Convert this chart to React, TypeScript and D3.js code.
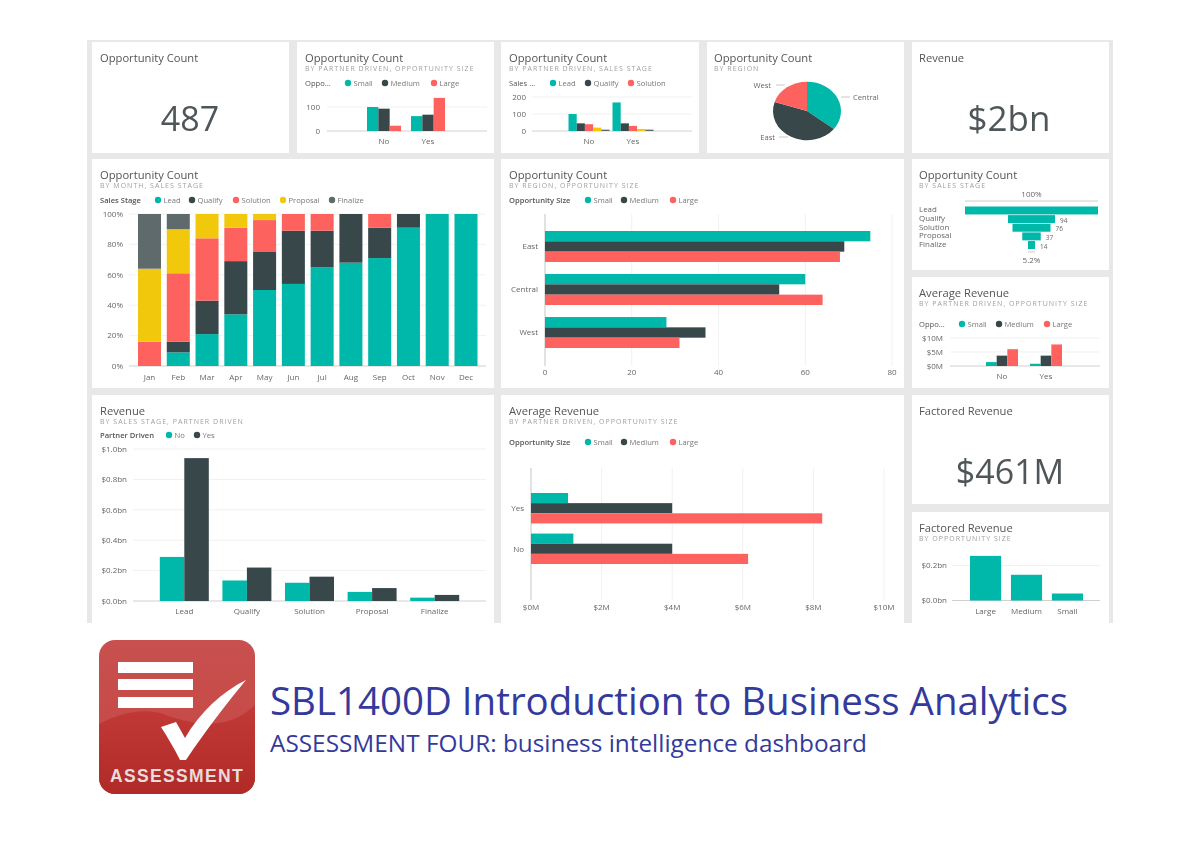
import React from 'react';
import * as d3 from 'd3';

const TEAL = '#01B8AA';
const DARK = '#374649';
const RED = '#FD625E';
const YELLOW = '#F2C80F';
const GRAY = '#5F6B6D';
const INK = '#666';
const FONT = '"Open Sans", "Noto Sans", sans-serif';

const partners = ['No', 'Yes'];
const partnersDesc = ['Yes', 'No'];
const sizesDesc = ['Large', 'Medium', 'Small'];
const stages = ['Lead', 'Qualify', 'Solution', 'Proposal', 'Finalize'];
const months = ['Jan', 'Feb', 'Mar', 'Apr', 'May', 'Jun', 'Jul', 'Aug', 'Sep', 'Oct', 'Nov', 'Dec'];
const regions = ['East', 'Central', 'West'];
const pieRegions = ['Central', 'East', 'West'];

// values, one array per series
const countSmall = [100, 62];
const countMedium = [93, 68];
const countLarge = [22, 138];

const stageCountLead = [100, 168];
const stageCountQualify = [45, 45];
const stageCountSolution = [40, 30];
const stageCountProposal = [20, 12];
const stageCountFinalize = [8, 8];

const regionShare = [35.5, 44.5, 20];

const monthLead = [0, 9, 21, 34, 50, 54, 65, 68, 71, 91, 100, 100];
const monthQualify = [0, 7, 22, 35, 25, 35, 24, 32, 20, 9, 0, 0];
const monthSolution = [16, 45, 41, 22, 21, 11, 11, 0, 9, 0, 0, 0];
const monthProposal = [48, 29, 16, 9, 4, 0, 0, 0, 0, 0, 0, 0];
const monthFinalize = [36, 10, 0, 0, 0, 0, 0, 0, 0, 0, 0, 0];

const regionSmall = [75, 60, 28];
const regionMedium = [69, 54, 37];
const regionLarge = [68, 64, 31];

const funnelCounts = [266, 94, 76, 37, 14];

const avgSmall = [1.4, 0.8];
const avgMedium = [3.7, 3.7];
const avgLarge = [6, 7.7];

const revenueNo = [0.29, 0.135, 0.12, 0.06, 0.022];
const revenueYes = [0.94, 0.22, 0.16, 0.085, 0.04];

// Yes first, No second, same order as partnersDesc
const avgBarSmall = [1.05, 1.2];
const avgBarMedium = [4, 4];
const avgBarLarge = [8.25, 6.15];

const factoredSizes = [0.255, 0.147, 0.04];

const Title = ({ x, y, title, sub }: { x: number; y: number; title: string; sub?: string }) => (
  <g fontFamily={FONT}>
    <text x={x} y={y} fontSize={11.2} fill="#555">{title}</text>
    {sub && (
      <text x={x} y={y + 8.8} fontSize={7} letterSpacing={1.02} fill="#a0a0a0">{sub}</text>
    )}
  </g>
);

const Card = ({ x, y, label, value, cx, fontSize }: any) => (
  <g fontFamily={FONT}>
    <Title x={x} y={y} title={label} />
    <text x={cx} y={y + 69} fontSize={fontSize} fill="#50575a" textAnchor="middle">{value}</text>
  </g>
);

const Legend = ({ y, title, titleX, items, bold }: any) => (
  <g fontFamily={FONT} fontSize={7.6}>
    <text x={titleX} y={y + 2.6} fill="#555" fontWeight={bold ? 600 : 400}>{title}</text>
    {items.map((it: any) => (
      <g key={it.name}>
        <circle cx={it.x} cy={y} r={3.2} fill={it.color} />
        <text x={it.x + 5.5} y={y + 2.6} fill="#777">{it.name}</text>
      </g>
    ))}
  </g>
);

// clustered columns, one array per series
const Columns = ({ cats, series, colors, xr, yr, domain, ticks, fmt, base, tickX, padIn = 0, bandW, gridX, gridX2 }: any) => {
  const x = d3.scaleBand<string>().domain(cats).range(xr).paddingInner(padIn);
  const y = d3.scaleLinear().domain(domain).range(yr);
  const inner = d3.scaleBand<number>().domain(d3.range(series.length)).range([0, bandW ?? x.bandwidth()]);
  const off = (x.bandwidth() - inner.range()[1]) / 2;
  return (
    <g fontFamily={FONT} fontSize={8} fill={INK}>
      {ticks.map((t: number) => (
        <g key={t}>
          <line x1={gridX} x2={gridX2} y1={y(t)} y2={y(t)} stroke={t === domain[0] ? '#d0d0d0' : '#f1f1f1'} strokeWidth={1} />
          <text x={tickX} y={y(t) + 2.8} textAnchor="end">{fmt(t)}</text>
        </g>
      ))}
      {cats.map((c: string, i: number) => (
        <g key={c}>
          {series.map((s: number[], k: number) => (
            <rect key={k} x={x(c)! + off + inner(k)!} width={inner.bandwidth()} y={y(s[i])} height={y(domain[0]) - y(s[i])} fill={colors[k]} />
          ))}
          <text x={x(c)! + x.bandwidth() / 2} y={base} textAnchor="middle">{c}</text>
        </g>
      ))}
    </g>
  );
};

// clustered horizontal bars, one array per series
const Bars = ({ cats, series, colors, xr, yr, domain, ticks, fmt, gridY, base, labelX, padIn }: any) => {
  const y = d3.scaleBand<string>().domain(cats).range(yr).paddingInner(padIn);
  const x = d3.scaleLinear().domain(domain).range(xr);
  const inner = d3.scaleBand<number>().domain(d3.range(series.length)).range([0, y.bandwidth()]);
  return (
    <g fontFamily={FONT} fontSize={8} fill={INK}>
      {ticks.map((t: number) => (
        <g key={t}>
          <line x1={x(t)} x2={x(t)} y1={gridY[0]} y2={gridY[1]} stroke={t === 0 ? '#d6d6d6' : '#f1f1f1'} strokeWidth={t === 0 ? 1.4 : 1} />
          <text x={x(t)} y={base} textAnchor="middle">{fmt(t)}</text>
        </g>
      ))}
      {cats.map((c: string, i: number) => (
        <g key={c}>
          {series.map((s: number[], k: number) => (
            <rect key={k} x={x(0)} y={y(c)! + inner(k)!} width={x(s[i]) - x(0)} height={inner.bandwidth()} fill={colors[k]} />
          ))}
          <text x={labelX} y={y(c)! + y.bandwidth() / 2 + 2.8} textAnchor="end">{c}</text>
        </g>
      ))}
    </g>
  );
};

const StackedMonths = () => {
  const rows = months.map((m, i) => ({
    month: m,
    Lead: monthLead[i],
    Qualify: monthQualify[i],
    Solution: monthSolution[i],
    Proposal: monthProposal[i],
    Finalize: monthFinalize[i],
  }));
  const stack = d3.stack<any>().keys(stages)(rows);
  const colors = [TEAL, DARK, RED, YELLOW, GRAY];
  const x = d3.scaleBand<string>().domain(months).range([138, 477.5]).paddingInner(0.2);
  const y = d3.scaleLinear().domain([0, 100]).range([366, 214]);
  return (
    <g fontFamily={FONT} fontSize={8} fill={INK}>
      {y.ticks(5).map((t) => (
        <g key={t}>
          <line x1={129} x2={486} y1={y(t)} y2={y(t)} stroke={t === 0 ? '#d0d0d0' : '#f1f1f1'} />
          <text x={123} y={y(t) + 2.8} textAnchor="end">{t}%</text>
        </g>
      ))}
      {stack.map((layer, k) => (
        <g key={layer.key} fill={colors[k]}>
          {layer.map((d) => (
            <rect key={d.data.month} x={x(d.data.month)} width={x.bandwidth()} y={y(d[1])} height={y(d[0]) - y(d[1])} />
          ))}
        </g>
      ))}
      {months.map((m) => (
        <text key={m} x={x(m)! + x.bandwidth() / 2} y={380} textAnchor="middle">{m}</text>
      ))}
    </g>
  );
};

const RegionPie = () => {
  const pie = d3.pie<number>().sort(null)(regionShare);
  const arc = d3.arc<d3.PieArcDatum<number>>().innerRadius(0).outerRadius(34);
  const colors = [TEAL, DARK, RED];
  const anchors = [
    { x: 853, y: 97, lx1: 841, lx2: 850, end: false },
    { x: 775, y: 137, lx1: 779, lx2: 788, end: true },
    { x: 771, y: 85, lx1: 776, lx2: 785, end: true },
  ];
  return (
    <g fontFamily={FONT} fontSize={7.6} fill={INK}>
      <g transform="translate(807,111) scale(1,0.86)">
        {pie.map((p, i) => (
          <path key={i} d={arc(p)!} fill={colors[i]} />
        ))}
      </g>
      {pieRegions.map((r, i) => (
        <g key={r}>
          <line x1={anchors[i].lx1} x2={anchors[i].lx2} y1={anchors[i].y} y2={anchors[i].y} stroke="#c8c8c8" />
          <text x={anchors[i].x} y={anchors[i].y + 2.6} textAnchor={anchors[i].end ? 'end' : 'start'}>{r}</text>
        </g>
      ))}
    </g>
  );
};

const Funnel = () => {
  const w = d3.scaleLinear().domain([0, funnelCounts[0]]).range([0, 133]);
  const y = d3.scaleBand<string>().domain(stages).range([206.5, 249]).paddingInner(0.08);
  const cx = 1031.5;
  return (
    <g fontFamily={FONT} fontSize={8} fill={INK}>
      <line x1={965} x2={1098} y1={201} y2={201} stroke="#ccc" />
      <text x={cx} y={197} textAnchor="middle">100%</text>
      <line x1={1028} x2={1035} y1={252} y2={252} stroke="#ccc" />
      <text x={cx} y={263} textAnchor="middle">5.2%</text>
      {stages.map((s, i) => (
        <g key={s}>
          <rect x={cx - w(funnelCounts[i]) / 2} width={w(funnelCounts[i])} y={y(s)} height={y.bandwidth()} fill={TEAL} />
          {/* rows are tighter than the type, so the labels are short and stretched */}
          <text transform={`translate(919,${y(s)! + y.bandwidth() / 2 + 2}) scale(1.24,1)`} fontSize={6.4}>{s}</text>
          {i > 0 && (
            <text x={cx + w(funnelCounts[i]) / 2 + 5} y={y(s)! + y.bandwidth() / 2 + 3.5} fontSize={6.4}>{funnelCounts[i]}</text>
          )}
        </g>
      ))}
    </g>
  );
};

const Logo = () => (
  <g>
    <defs>
      <linearGradient id="logoTop" x1="0" y1="0" x2="0" y2="1">
        <stop offset="0%" stopColor="#c8504e" />
        <stop offset="100%" stopColor="#c54644" />
      </linearGradient>
      <linearGradient id="logoBottom" x1="0" y1="0" x2="0" y2="1">
        <stop offset="0%" stopColor="#c23a37" />
        <stop offset="100%" stopColor="#b02a27" />
      </linearGradient>
      <clipPath id="logoClip">
        <rect x={99} y={640} width={156} height={154} rx={16} />
      </clipPath>
    </defs>
    <g clipPath="url(#logoClip)">
      <rect x={99} y={640} width={156} height={154} fill="url(#logoTop)" />
      <path d="M99 724 C118 714 140 708 160 713 C185 722 225 735 255 705 L255 794 L99 794 Z" fill="url(#logoBottom)" />
    </g>
    {[662, 679, 697].map((top) => (
      <rect key={top} x={118} y={top} width={75} height={11} fill="#fff" />
    ))}
    <path d="M161 727 L176 722 L185 738 C200 712 222 692 246 680 C228 702 206 730 186 760 L180 760 C174 748 168 738 161 727 Z" fill="#fff" />
    <text x={177} y={782} textAnchor="middle" fontFamily="Liberation Sans, sans-serif" fontWeight={700} fontSize={17.5} letterSpacing={1.35} fill="#e9dcda">ASSESSMENT</text>
  </g>
);

const App = () => {
  const plain = (v: number) => String(v);
  const bn = (v: number) => `$${v.toFixed(1)}bn`;
  const sizeLegend = (a: number, b: number, c: number) => [
    { name: 'Small', x: a, color: TEAL },
    { name: 'Medium', x: b, color: DARK },
    { name: 'Large', x: c, color: RED },
  ];
  const panels = [
    [92, 42, 197, 111], [297, 42, 197, 111], [501, 42, 198, 111], [707, 42, 197, 111], [912, 42, 197, 111],
    [92, 159, 402, 229], [501, 159, 403, 229], [912, 159, 197, 111], [912, 277, 197, 111],
    [92, 395, 402, 228], [501, 395, 403, 228], [912, 395, 197, 109], [912, 512, 197, 111],
  ];
  return (
    <svg width={1200} height={849} style={{ position: 'fixed', left: 0, top: 0, background: '#fff' }}>
      <defs>
        <filter id="soft" x="0" y="0" width="100%" height="100%">
          <feGaussianBlur stdDeviation="0.7" />
        </filter>
      </defs>
      <g filter="url(#soft)">
        <rect x={87} y={40} width={1026} height={583} fill="#e8e8e8" />
        {panels.map((p, i) => (
          <rect key={i} x={p[0]} y={p[1]} width={p[2]} height={p[3]} fill="#fff" />
        ))}

        <Card x={100} y={62} label="Opportunity Count" value="487" cx={190} fontSize={34} />

        <Title x={305} y={62} title="Opportunity Count" sub="BY PARTNER DRIVEN, OPPORTUNITY SIZE" />
        <Legend y={83} title="Oppo..." titleX={305} items={sizeLegend(348, 385, 434)} />
        <Columns cats={partners} series={[countSmall, countMedium, countLarge]} colors={[TEAL, DARK, RED]}
          xr={[362, 450]} yr={[131, 107]} domain={[0, 100]} ticks={[0, 100]} fmt={plain} base={144} tickX={320}
          gridX={327} gridX2={487} bandW={34} />

        <Title x={509} y={62} title="Opportunity Count" sub="BY PARTNER DRIVEN, SALES STAGE" />
        <Legend y={83} title="Sales ..." titleX={509} items={[
          { name: 'Lead', x: 553, color: TEAL },
          { name: 'Qualify', x: 588, color: DARK },
          { name: 'Solution', x: 631, color: RED },
        ]} />
        <Columns cats={partners} series={[stageCountLead, stageCountQualify, stageCountSolution, stageCountProposal, stageCountFinalize]}
          colors={[TEAL, DARK, RED, YELLOW, GRAY]} xr={[567, 655]} yr={[131, 97]} domain={[0, 200]} ticks={[0, 100, 200]} fmt={plain}
          base={144} tickX={526} gridX={532} gridX2={692} bandW={41} />

        <Title x={714} y={62} title="Opportunity Count" sub="BY REGION" />
        <RegionPie />

        <Card x={919} y={62} label="Revenue" value="$2bn" cx={1009} fontSize={35} />

        <Title x={100} y={179} title="Opportunity Count" sub="BY MONTH, SALES STAGE" />
        <Legend y={200} title="Sales Stage" titleX={100} bold items={[
          { name: 'Lead', x: 158, color: TEAL },
          { name: 'Qualify', x: 192, color: DARK },
          { name: 'Solution', x: 236, color: RED },
          { name: 'Proposal', x: 283, color: YELLOW },
          { name: 'Finalize', x: 332, color: GRAY },
        ]} />
        <StackedMonths />

        <Title x={509} y={179} title="Opportunity Count" sub="BY REGION, OPPORTUNITY SIZE" />
        <Legend y={200} title="Opportunity Size" titleX={509} bold items={sizeLegend(588, 624, 673)} />
        <Bars cats={regions} series={[regionSmall, regionMedium, regionLarge]} colors={[TEAL, DARK, RED]}
          xr={[545, 892]} yr={[231, 348]} domain={[0, 80]} ticks={[0, 20, 40, 60, 80]} fmt={plain}
          gridY={[214, 366]} base={375} labelX={538} padIn={0.28} />

        <Title x={919} y={179} title="Opportunity Count" sub="BY SALES STAGE" />
        <Funnel />

        <Title x={919} y={297} title="Average Revenue" sub="BY PARTNER DRIVEN, OPPORTUNITY SIZE" />
        <Legend y={324} title="Oppo..." titleX={919} items={sizeLegend(962, 999, 1047)} />
        <Columns cats={partners} series={[avgSmall, avgMedium, avgLarge]} colors={[TEAL, DARK, RED]}
          xr={[980, 1068]} yr={[366, 338]} domain={[0, 10]} ticks={[0, 5, 10]} fmt={(v: number) => `$${v}M`}
          base={379} tickX={943} gridX={950} gridX2={1100} bandW={32} />

        <Title x={100} y={415} title="Revenue" sub="BY SALES STAGE, PARTNER DRIVEN" />
        <Legend y={435} title="Partner Driven" titleX={100} bold items={[
          { name: 'No', x: 169, color: TEAL },
          { name: 'Yes', x: 197, color: DARK },
        ]} />
        <Columns cats={stages} series={[revenueNo, revenueYes]} colors={[TEAL, DARK]}
          xr={[153, 466]} yr={[601, 449]} domain={[0, 1]} ticks={[0, 0.2, 0.4, 0.6, 0.8, 1]}
          fmt={bn} base={614} tickX={127} gridX={133} gridX2={486} bandW={49} />

        <Title x={509} y={415} title="Average Revenue" sub="BY PARTNER DRIVEN, OPPORTUNITY SIZE" />
        <Legend y={442} title="Opportunity Size" titleX={509} bold items={sizeLegend(588, 624, 673)} />
        <Bars cats={partnersDesc} series={[avgBarSmall, avgBarMedium, avgBarLarge]}
          colors={[TEAL, DARK, RED]} xr={[531, 884]} yr={[493, 564]} domain={[0, 10]} ticks={[0, 2, 4, 6, 8, 10]}
          fmt={(v: number) => `$${v}M`} gridY={[468, 600]} base={610} labelX={524} padIn={0.25} />

        <Card x={919} y={415} label="Factored Revenue" value="$461M" cx={1010} fontSize={34} />

        <Title x={919} y={532} title="Factored Revenue" sub="BY OPPORTUNITY SIZE" />
        <Columns cats={sizesDesc} series={[factoredSizes]} colors={[TEAL]}
          xr={[970, 1083]} yr={[600.5, 565.5]} domain={[0, 0.2]} ticks={[0, 0.2]}
          fmt={bn} base={614} tickX={947} gridX={952} gridX2={1100} padIn={0.24} />
      </g>

      <Logo />

      <text x={270} y={715} fontFamily={FONT} fontSize={38} fill="#333a9c" textLength={798} lengthAdjust="spacingAndGlyphs">SBL1400D Introduction to Business Analytics</text>
      <text x={270} y={752} fontFamily={FONT} fontSize={24.5} fill="#333a9c" textLength={597} lengthAdjust="spacingAndGlyphs">ASSESSMENT FOUR: business intelligence dashboard</text>
    </svg>
  );
};

export default App;
